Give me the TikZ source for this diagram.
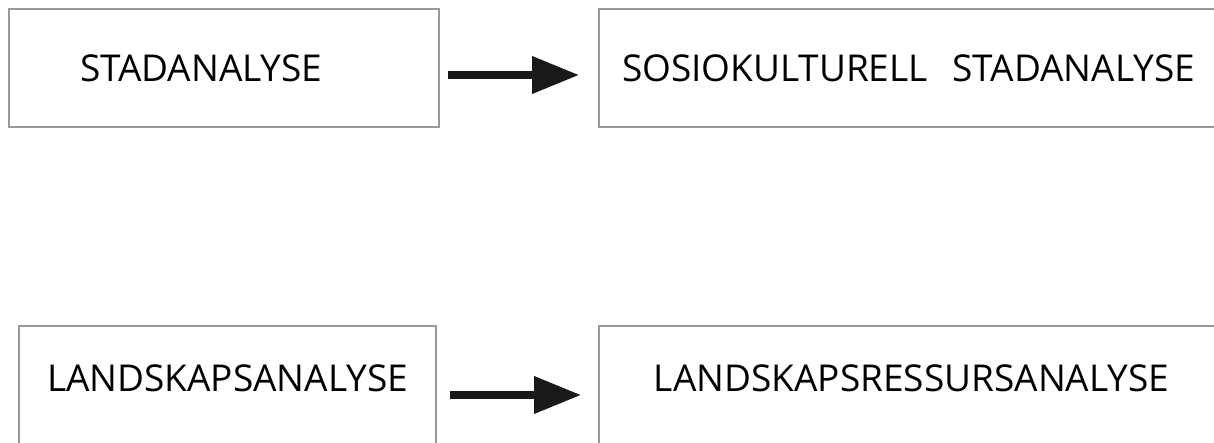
\documentclass[tikz,border=0pt]{standalone}
\usepackage{fontspec}
\setmainfont{Open Sans}
\usetikzlibrary{arrows.meta, positioning}

\begin{document}
\begin{tikzpicture}[
    x=0.5pt, y=-0.5pt,
    box/.style={draw=black!40, line width=1pt, rectangle, align=center, minimum height=59pt,
        font=\fontsize{18.5}{23}\selectfont},
    lowbox/.style={box, minimum height=65pt, text depth=13pt},
    arrow/.style={-{Triangle[length=23.5pt, width=18pt]}, line width=3.6pt, black!90}
]
\clip (0,0) rectangle (1214,443);

% Nodes
\node[box, minimum width=215pt, text width=144pt, align=left] (stad) at (224,68) {STADANALYSE};
\node[box, minimum width=312.5pt, text width=289.5pt, align=left] (sosio) at (911.5,68) {SOSIOKULTURELL\ \ STADANALYSE};
\node[lowbox, minimum width=208.5pt] (land) at (227.5,391) {LANDSKAPSANALYSE};
\node[lowbox, minimum width=312.5pt] (ressurs) at (911.5,391) {LANDSKAPSRESSURSANALYSE};

% Arrows
\draw[arrow, shorten <=4pt, shorten >=9.5pt] ([yshift=-3.5pt]stad.east) -- ([yshift=-3.5pt]sosio.west);
\draw[arrow, shorten <=6.5pt, shorten >=8.5pt] ([yshift=-2pt]land.east) -- ([yshift=-2pt]ressurs.west);

\end{tikzpicture}
\end{document}
